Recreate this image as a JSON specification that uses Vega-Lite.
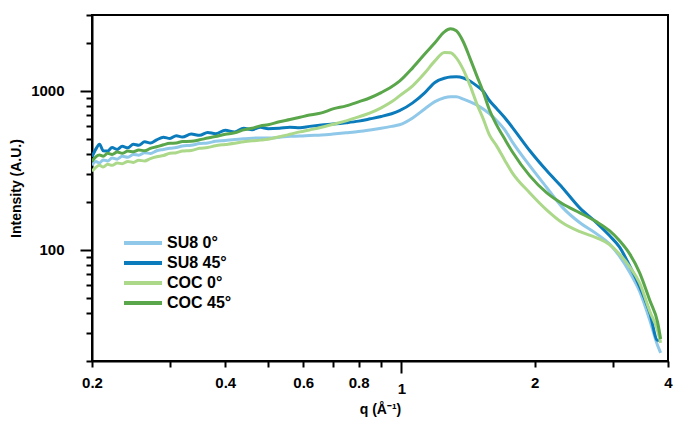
{
  "$schema": "https://vega.github.io/schema/vega-lite/v6.json",
  "autosize": "none",
  "width": 576,
  "height": 346,
  "padding": {"left": 92, "top": 15, "right": 9, "bottom": 63},
  "background": "white",
  "config": {
    "view": {"stroke": "black", "strokeWidth": 2},
    "font": "Liberation Sans"
  },
  "data": {
    "values": [
      {"q": 0.200, "a": 340, "b": 385, "c": 312, "d": 360},
      {"q": 0.204, "a": 360, "b": 430, "c": 330, "d": 385},
      {"q": 0.208, "a": 352, "b": 462, "c": 340, "d": 395},
      {"q": 0.212, "a": 368, "b": 420, "c": 332, "d": 388},
      {"q": 0.217, "a": 362, "b": 418, "c": 345, "d": 405},
      {"q": 0.222, "a": 378, "b": 440, "c": 340, "d": 398},
      {"q": 0.228, "a": 372, "b": 428, "c": 352, "d": 412},
      {"q": 0.234, "a": 388, "b": 448, "c": 348, "d": 405},
      {"q": 0.241, "a": 382, "b": 438, "c": 360, "d": 418},
      {"q": 0.248, "a": 398, "b": 462, "c": 355, "d": 414},
      {"q": 0.255, "a": 394, "b": 455, "c": 366, "d": 425},
      {"q": 0.263, "a": 408, "b": 478, "c": 362, "d": 420},
      {"q": 0.271, "a": 404, "b": 470, "c": 375, "d": 435},
      {"q": 0.280, "a": 420, "b": 492, "c": 385, "d": 445},
      {"q": 0.290, "a": 428, "b": 510, "c": 392, "d": 458},
      {"q": 0.300, "a": 436, "b": 502, "c": 405, "d": 468},
      {"q": 0.310, "a": 440, "b": 522, "c": 408, "d": 470},
      {"q": 0.320, "a": 450, "b": 512, "c": 418, "d": 480},
      {"q": 0.335, "a": 455, "b": 535, "c": 422, "d": 482},
      {"q": 0.350, "a": 466, "b": 525, "c": 435, "d": 492},
      {"q": 0.365, "a": 470, "b": 548, "c": 440, "d": 505},
      {"q": 0.380, "a": 482, "b": 538, "c": 452, "d": 516},
      {"q": 0.400, "a": 488, "b": 565, "c": 460, "d": 533},
      {"q": 0.420, "a": 495, "b": 552, "c": 468, "d": 545},
      {"q": 0.440, "a": 500, "b": 582, "c": 478, "d": 568},
      {"q": 0.460, "a": 504, "b": 570, "c": 485, "d": 582},
      {"q": 0.480, "a": 506, "b": 590, "c": 490, "d": 602},
      {"q": 0.500, "a": 505, "b": 578, "c": 496, "d": 612},
      {"q": 0.530, "a": 510, "b": 582, "c": 514, "d": 640},
      {"q": 0.560, "a": 518, "b": 590, "c": 533, "d": 660},
      {"q": 0.590, "a": 520, "b": 586, "c": 552, "d": 682},
      {"q": 0.620, "a": 524, "b": 598, "c": 568, "d": 705},
      {"q": 0.660, "a": 528, "b": 610, "c": 590, "d": 727},
      {"q": 0.700, "a": 535, "b": 618, "c": 616, "d": 770},
      {"q": 0.750, "a": 545, "b": 630, "c": 648, "d": 805},
      {"q": 0.800, "a": 555, "b": 645, "c": 686, "d": 853},
      {"q": 0.850, "a": 568, "b": 667, "c": 727, "d": 905},
      {"q": 0.900, "a": 582, "b": 690, "c": 782, "d": 975},
      {"q": 0.950, "a": 598, "b": 718, "c": 853, "d": 1060},
      {"q": 0.990, "a": 612, "b": 750, "c": 930, "d": 1150},
      {"q": 1.06, "a": 676, "b": 840, "c": 1075, "d": 1395},
      {"q": 1.13, "a": 772, "b": 975, "c": 1298, "d": 1710},
      {"q": 1.19, "a": 855, "b": 1130, "c": 1544, "d": 2004},
      {"q": 1.25, "a": 905, "b": 1200, "c": 1746, "d": 2350},
      {"q": 1.29, "a": 918, "b": 1222, "c": 1734, "d": 2454},
      {"q": 1.33, "a": 917, "b": 1225, "c": 1612, "d": 2385},
      {"q": 1.38, "a": 888, "b": 1205, "c": 1355, "d": 2030},
      {"q": 1.43, "a": 853, "b": 1150, "c": 1075, "d": 1590},
      {"q": 1.48, "a": 815, "b": 1075, "c": 828, "d": 1243},
      {"q": 1.53, "a": 770, "b": 995, "c": 667, "d": 985},
      {"q": 1.58, "a": 718, "b": 870, "c": 529, "d": 760},
      {"q": 1.64, "a": 650, "b": 775, "c": 451, "d": 611},
      {"q": 1.71, "a": 570, "b": 680, "c": 368, "d": 499},
      {"q": 1.78, "a": 478, "b": 590, "c": 305, "d": 414},
      {"q": 1.95, "a": 337, "b": 420, "c": 228, "d": 292},
      {"q": 2.13, "a": 246, "b": 314, "c": 178, "d": 228},
      {"q": 2.31, "a": 185, "b": 246, "c": 148, "d": 195},
      {"q": 2.53, "a": 148, "b": 183, "c": 130, "d": 171},
      {"q": 2.76, "a": 126, "b": 148, "c": 119, "d": 150},
      {"q": 2.95, "a": 109, "b": 123, "c": 108, "d": 132},
      {"q": 3.11, "a": 91, "b": 104, "c": 94, "d": 114},
      {"q": 3.28, "a": 72, "b": 79, "c": 78, "d": 94},
      {"q": 3.45, "a": 55, "b": 59, "c": 62, "d": 72},
      {"q": 3.64, "a": 36, "b": 40, "c": 41, "d": 48},
      {"q": 3.79, "a": 25, "b": 27, "c": 31, "d": 35},
      {"q": 3.85, "a": 22.5, "b": 27, "c": 26, "d": 27.5}
    ]
  },
  "transform": [
    {"fold": ["a", "b", "c", "d"], "as": ["key", "intensity"]},
    {"lookup": "key", "from": {"data": {"values": [
      {"key": "a", "series": "SU8 0°"},
      {"key": "b", "series": "SU8 45°"},
      {"key": "c", "series": "COC 0°"},
      {"key": "d", "series": "COC 45°"}
    ]}, "key": "key", "fields": ["series"]}}
  ],
  "mark": {"type": "line", "strokeWidth": 3, "interpolate": "monotone", "clip": true},
  "encoding": {
    "x": {
      "field": "q", "type": "quantitative",
      "scale": {"type": "log", "domain": [0.2, 4], "nice": false},
      "axis": {
        "title": "q (Å⁻¹)",
        "values": [0.2, 0.3, 0.4, 0.5, 0.6, 0.7, 0.8, 0.9, 1, 2, 3, 4],
        "format": "~g",
        "labelExpr": "(datum.value == 0.3 || datum.value == 0.5 || datum.value == 0.7 || datum.value == 0.9 || datum.value == 3) ? '' : datum.label",
        "grid": false,
        "domainColor": "black", "domainWidth": 2,
        "tickColor": "black", "tickWidth": 2,
        "tickSize": {"condition": {"test": "datum.value == 1", "value": 12}, "value": 6},
        "labelFont": "Liberation Sans", "labelFontWeight": "bold", "labelFontSize": 15, "labelColor": "black",
        "labelPadding": 8, "labelFlush": false, "labelOverlap": false,
        "titleFont": "Liberation Sans", "titleFontWeight": "bold", "titleFontSize": 14, "titleColor": "black",
        "titlePadding": 6
      }
    },
    "y": {
      "field": "intensity", "type": "quantitative",
      "scale": {"type": "log", "domain": [20, 3000], "nice": false},
      "axis": {
        "title": "Intensity (A.U.)",
        "values": [20, 30, 40, 50, 60, 70, 80, 90, 100, 200, 300, 400, 500, 600, 700, 800, 900, 1000, 2000, 3000],
        "format": "d",
        "labelExpr": "(datum.value == 100 || datum.value == 1000) ? datum.label : ''",
        "grid": false,
        "domainColor": "black", "domainWidth": 2,
        "tickColor": "black", "tickWidth": 2,
        "tickSize": {"condition": {"test": "datum.value == 100 || datum.value == 1000", "value": 12}, "value": 6},
        "labelFont": "Liberation Sans", "labelFontWeight": "bold", "labelFontSize": 15, "labelColor": "black",
        "labelPadding": 16, "labelOverlap": false, "labelFlush": false,
        "titleFont": "Liberation Sans", "titleFontWeight": "bold", "titleFontSize": 14, "titleColor": "black",
        "titlePadding": 7
      }
    },
    "color": {
      "field": "series", "type": "nominal",
      "scale": {
        "domain": ["SU8 0°", "SU8 45°", "COC 0°", "COC 45°"],
        "range": ["#8fc8e8", "#0b7bbb", "#acd88a", "#5aa64a"]
      },
      "legend": {
        "title": null,
        "orient": "none",
        "legendX": 39,
        "legendY": 216,
        "symbolType": "M-1.9,0H1.9",
        "symbolSize": 400,
        "symbolStrokeWidth": 4,
        "symbolFillColor": "transparent",
        "labelFont": "Liberation Sans", "labelFontWeight": "bold", "labelFontSize": 16, "labelColor": "black",
        "labelOffset": 12,
        "rowPadding": 0
      }
    }
  }
}
